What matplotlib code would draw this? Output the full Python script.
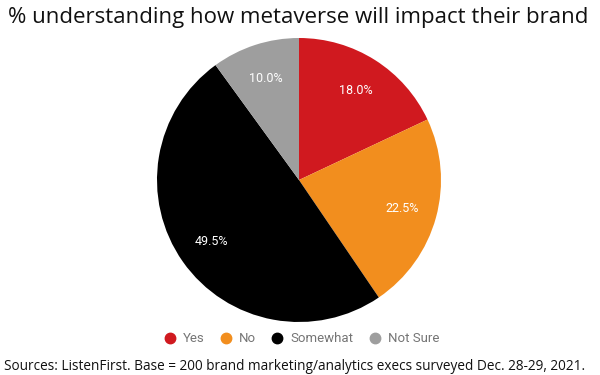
import matplotlib
matplotlib.use("Agg")
import matplotlib.pyplot as plt
from matplotlib.lines import Line2D

labels = ["Yes", "No", "Somewhat", "Not Sure"]
values = [18.0, 22.5, 49.5, 10.0]
colors = ["#d0191f", "#f28e1e", "#000000", "#9e9e9e"]

fig = plt.figure(figsize=(6, 3.75), dpi=100)

# pie area: centre ~ (299, 180) px, radius ~142 px
r = 142
ax = fig.add_axes([(299 - r) / 600, (375 - 180 - r) / 375, 2 * r / 600, 2 * r / 375])
wedges, texts, autotexts = ax.pie(
    values, colors=colors, startangle=90, counterclock=False,
    autopct="%1.1f%%", pctdistance=0.75, radius=1.0,
    wedgeprops=dict(linewidth=0),
    textprops=dict(color="white", fontsize=9, family="Roboto"),
)
ax.set_xlim(-1, 1)
ax.set_ylim(-1, 1)
ax.set_aspect("equal")

fig.text(0.497, 1 - 18 / 375, "% understanding how metaverse will impact their brand",
         ha="center", va="center", fontsize=16, family="Open Sans", color="#111111")

handles = [Line2D([], [], marker="o", linestyle="", markersize=7.5,
                  markerfacecolor=c, markeredgecolor=c) for c in colors]
fig.legend(handles, labels, loc="center", bbox_to_anchor=(0.503, 1 - 339 / 375),
           ncol=4, frameon=False, handlelength=0.8, handletextpad=0.6,
           columnspacing=1.2, prop=dict(family="Roboto", size=9.5),
           labelcolor="#757575")

fig.text(4 / 600, 1 - 366 / 375,
         "Sources: ListenFirst. Base = 200 brand marketing/analytics execs surveyed Dec. 28-29, 2021.",
         ha="left", va="center", fontsize=9.8, family="Open Sans", color="#111111")

fig.savefig("out.png", dpi=100)
